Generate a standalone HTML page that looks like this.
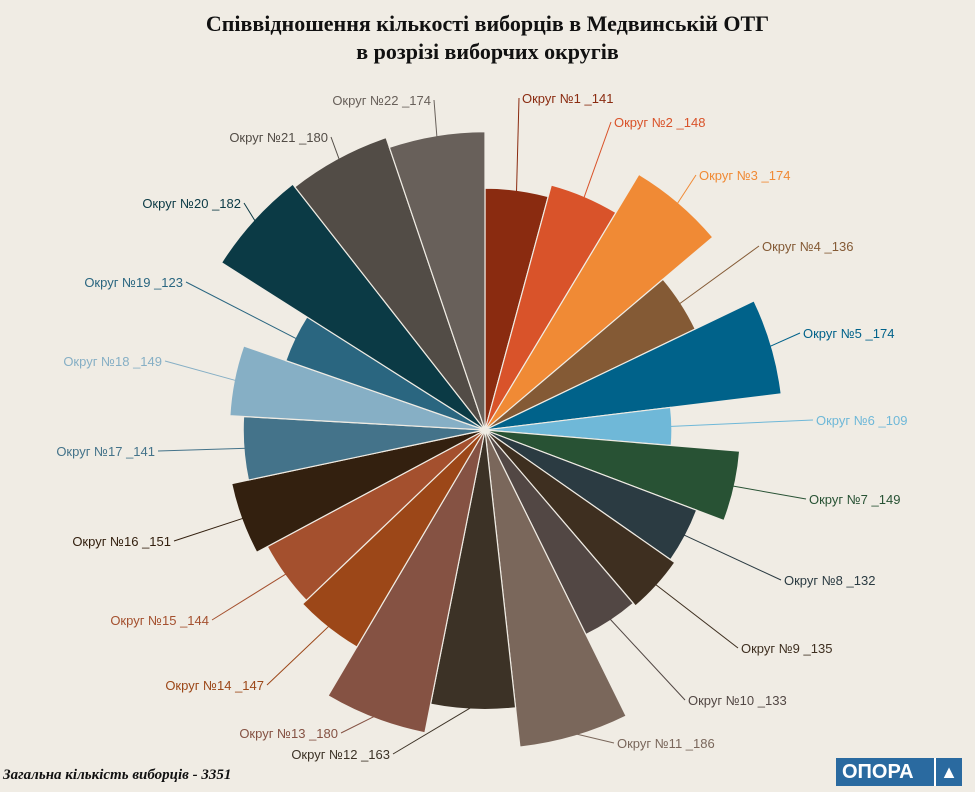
<!DOCTYPE html>
<html><head><meta charset="utf-8">
<style>
body{margin:0;background:#f0ece4;}
#wrap{position:relative;width:975px;height:792px;background:#f0ece4;overflow:hidden;font-family:"Liberation Sans",sans-serif;}
#title{position:absolute;top:10px;left:0;width:975px;text-align:center;font-family:"Liberation Serif",serif;font-weight:bold;font-size:22px;line-height:28px;color:#111;}
#footer{position:absolute;left:3px;top:767px;font-family:"Liberation Serif",serif;font-weight:bold;font-style:italic;font-size:15px;color:#111;}
#logo{position:absolute;left:836px;top:758px;width:126px;height:28px;background:#2a6aa0;color:#fff;font-weight:bold;font-size:20px;line-height:28px;}
</style></head><body>
<div id="wrap">
<div id="title">Співвідношення кількості виборців в Медвинській ОТГ<br>в розрізі виборчих округів</div>
<svg id="chart" width="975" height="792" style="position:absolute;left:0;top:0"></svg>
<div id="footer">Загальна кількість виборців - 3351</div>
<div id="logo"><span style="margin-left:6px">ОПОРА</span><span style="position:absolute;right:0;top:0;width:26px;height:28px;border-left:2px solid #fff;text-align:center;font-size:18px">▲</span></div>
</div>
<script>
const categories=["Округ №1","Округ №2","Округ №3","Округ №4","Округ №5","Округ №6","Округ №7","Округ №8","Округ №9","Округ №10","Округ №11","Округ №12","Округ №13","Округ №14","Округ №15","Округ №16","Округ №17","Округ №18","Округ №19","Округ №20","Округ №21","Округ №22"];
const values=[141,148,174,136,174,109,149,132,135,133,186,163,180,147,144,151,141,149,123,182,180,174];
const colors=["#8a2b10","#d9532a","#f08a35","#845a35","#00628a","#6fb8d8","#285234","#2b3b42","#3e2f20","#524744","#7a675b","#3c3226","#855243","#9c4718","#a4502e","#33200f","#44738a","#86afc5","#2a6680","#0b3a45","#524c46","#68605a"];
const labelColors=["#8a2b10","#d9532a","#f08a35","#845a35","#00628a","#6fb8d8","#285234","#2b3b42","#3e2f20","#524744","#7a675b","#3c3226","#855243","#9c4718","#a4502e","#33200f","#44738a","#86afc5","#2a6680","#0b3a45","#524c46","#68605a"];
// label layout (text anchor x, baseline y)
const labelPos=[[522,103],[614,127],[699,180],[762,251],[803,338],[816,425],[809,504],[784,585],[741,653],[688,705],[617,748],[390,759],[338,738],[264,690],[209,625],[171,546],[155,456],[162,366],[183,287],[241,208],[328,142],[431,105]];
const NS="http://www.w3.org/2000/svg";
const svg=document.getElementById('chart');
const cx=485,cy=430,k=1.715;
const rScale=v=>v*k;
const total=values.reduce((a,b)=>a+b,0);
let acc=0;
values.forEach((v,i)=>{
  const r=rScale(v);
  const a0=-Math.PI/2+acc/total*2*Math.PI;
  acc+=v;
  const a1=-Math.PI/2+acc/total*2*Math.PI;
  const p=document.createElementNS(NS,'path');
  p.setAttribute('d',`M${cx},${cy}L${cx+r*Math.cos(a0)},${cy+r*Math.sin(a0)}A${r},${r} 0 0 1 ${cx+r*Math.cos(a1)},${cy+r*Math.sin(a1)}Z`);
  p.setAttribute('fill',colors[i]);p.setAttribute('stroke','#f0ece4');p.setAttribute('stroke-width','1.2');
  
  
  svg.appendChild(p);
  const am=(a0+a1)/2,r0=r-3;
  const sx=cx+r0*Math.cos(am),sy=cy+r0*Math.sin(am);
  const right=i<11;
  const [lx,ly]=labelPos[i];
  const ax=right?lx-3:lx+3, ay=ly-5;
  const ln=document.createElementNS(NS,'polyline');
  ln.setAttribute('points',`${sx},${sy} ${ax},${ay}`);
  ln.setAttribute('fill','none');ln.setAttribute('stroke',labelColors[i]);ln.setAttribute('stroke-width','1');
  
  
  svg.appendChild(ln);
  const t=document.createElementNS(NS,'text');
  t.setAttribute('x',lx);t.setAttribute('y',ly);
  t.setAttribute('text-anchor',right?'start':'end');
  t.setAttribute('font-size','13');t.setAttribute('font-family','"Liberation Sans",sans-serif');
  t.setAttribute('fill',labelColors[i]);
  t.textContent=categories[i]+' _'+values[i];
  
  
  svg.appendChild(t);
});
</script>
</body></html>
